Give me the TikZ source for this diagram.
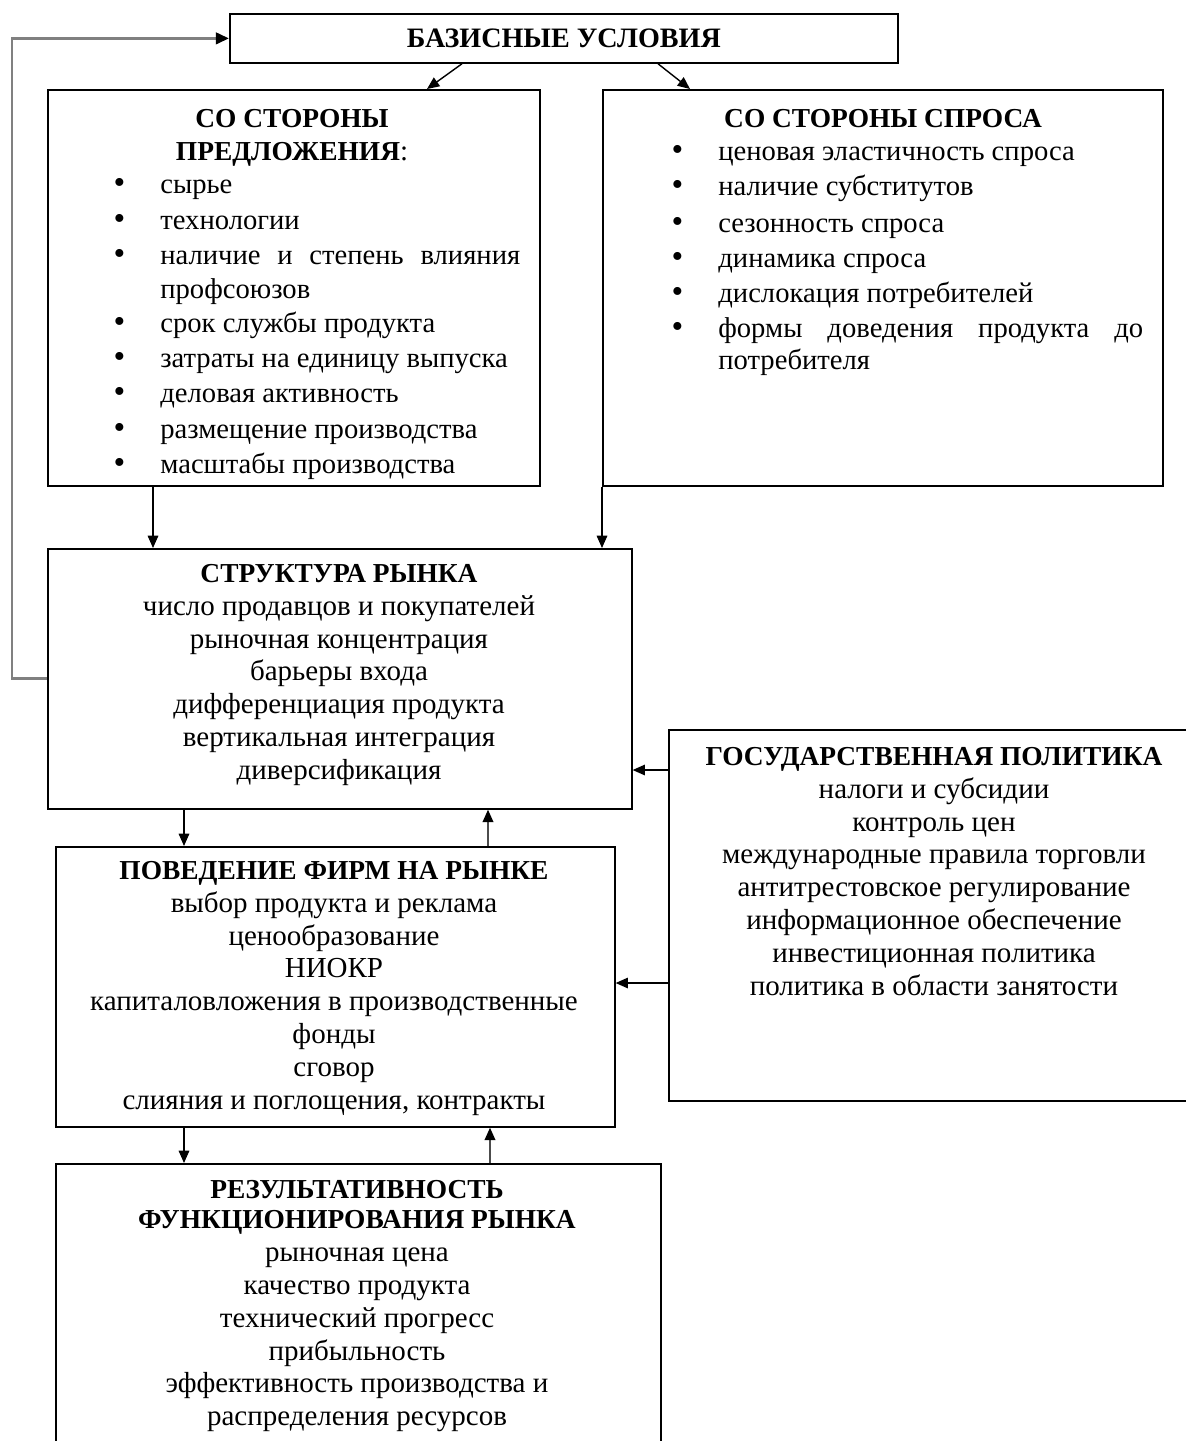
\documentclass[tikz,border=0pt]{standalone}
\usepackage{fontspec}
\setmainfont{Liberation Serif}
\usetikzlibrary{arrows.meta,calc}

\tikzset{
  box/.style={draw, line width=1pt, inner sep=0pt, anchor=north west},
  txt/.style={inner sep=0pt, anchor=north, align=center, font=\fontsize{16.5}{18.7}\selectfont},
  item/.style={inner sep=0pt, anchor=base west, font=\fontsize{16.3}{19}\selectfont},
  arr/.style={line width=0.8pt, -{Triangle[length=7pt, width=6pt]}},
  back/.style={line width=1pt, gray!60!black, -{Triangle[length=7pt, width=6pt, black]}},
  fb/.style={line width=1.7pt, gray, -{Triangle[length=7.5pt, width=6.5pt, black]}}
}

\newcommand{\blt}{\llap{{\fontsize{19}{19}\selectfont\textbullet}\hspace{0.7cm}}}
\newcommand{\hd}[1]{{\fontsize{15.6}{18.7}\selectfont\bfseries #1}}

\begin{document}
\begin{tikzpicture}[x=0.02cm, y=-0.02cm]
  \useasboundingbox (0,0) rectangle (1186,1441);
  \clip (0,0) rectangle (1186,1441);

  % boxes
  \node[box, minimum width=13.36cm, minimum height=0.98cm, font=\fontsize{16}{19}\selectfont\bfseries] (base) at (229,13) {БАЗИСНЫЕ УСЛОВИЯ};
  \node[box, minimum width=9.84cm, minimum height=7.92cm] (sup) at (47,89) {};
  \node[box, minimum width=11.2cm, minimum height=7.92cm] (dem) at (602,89) {};
  \node[box, minimum width=11.68cm, minimum height=5.2cm] (str) at (47,548) {};
  \node[box, minimum width=11.18cm, minimum height=5.6cm] (beh) at (55,846) {};
  \node[box, minimum width=11.44cm, minimum height=7.42cm] (gov) at (668,729) {};
  \node[box, minimum width=12.1cm, minimum height=6.4cm] (res) at (55,1163) {};

  % supply side
  \node[txt] (suphead) at (292,104) {\strut\hd{СО СТОРОНЫ}\\\hd{ПРЕДЛОЖЕНИЯ}:};
  \node[item] (s1) at (160,193) {\blt сырье};
  \node[item] (s2) at (160,229) {\blt технологии};
  \node[item] (s3) at (160,264) {\blt\makebox[7.2cm][s]{наличие и степень влияния}};
  \node[item] (s4) at (160,298) {профсоюзов};
  \node[item] (s5) at (160,332) {\blt срок службы продукта};
  \node[item] (s6) at (160,367) {\blt затраты на единицу выпуска};
  \node[item] (s7) at (160,402) {\blt деловая активность};
  \node[item] (s8) at (160,438) {\blt размещение производства};
  \node[item] (s9) at (160,473) {\blt масштабы производства};

  % demand side
  \node[txt] (demhead) at (883,104) {\strut\hd{СО СТОРОНЫ СПРОСА}};
  \node[item] (d1) at (718,160) {\blt ценовая эластичность спроса};
  \node[item] (d2) at (718,195) {\blt наличие субститутов};
  \node[item] (d3) at (718,232) {\blt сезонность спроса};
  \node[item] (d4) at (718,267) {\blt динамика спроса};
  \node[item] (d5) at (718,302) {\blt дислокация потребителей};
  \node[item] (d6) at (718,337) {\blt\makebox[8.5cm][s]{формы доведения продукта до}};
  \node[item] (d7) at (718,369) {потребителя};

  % centred box texts
  \node[txt] (strtxt) at (339,559) {\strut\hd{СТРУКТУРА РЫНКА}\\число продавцов и покупателей\\рыночная концентрация\\барьеры входа\\дифференциация продукта\\вертикальная интеграция\\диверсификация};
  \node[txt] (behtxt) at (334,856) {\strut\hd{ПОВЕДЕНИЕ ФИРМ НА РЫНКЕ}\\выбор продукта и реклама\\ценообразование\\НИОКР\\капиталовложения в производственные\\фонды\\сговор\\слияния и поглощения, контракты};
  \node[txt] (govtxt) at (934,742) {\strut\hd{ГОСУДАРСТВЕННАЯ ПОЛИТИКА}\\налоги и субсидии\\контроль цен\\международные правила торговли\\антитрестовское регулирование\\информационное обеспечение\\инвестиционная политика\\политика в области занятости};
  \node[txt] (restxt) at (357,1175) {\strut\hd{РЕЗУЛЬТАТИВНОСТЬ}\\[-1.5pt]\hd{ФУНКЦИОНИРОВАНИЯ РЫНКА}\\рыночная цена\\качество продукта\\технический прогресс\\прибыльность\\эффективность производства и\\распределения ресурсов};

  % connectors
  \draw[arr] ($(base.south west)+(233,0)$) -- ($(sup.north west)+(380,0)$);
  \draw[arr] ($(base.south west)+(429,0)$) -- ($(dem.north west)+(88,0)$);
  \draw[arr] ($(sup.south west)+(106,0)$) -- ($(str.north west)+(106,0)$);
  \draw[arr] (dem.south west) -- (dem.south west |- str.north);
  \draw[arr] ($(str.south west)+(137,0)$) -- ($(beh.north west)+(129,0)$);
  \draw[back] ($(beh.north west)+(433,0)$) -- ($(str.south west)+(441,0)$);
  \draw[arr] ($(gov.north west)+(0,41)$) coordinate (g1) -- (g1 -| str.east);
  \draw[arr] ($(gov.north west)+(0,254)$) coordinate (g2) -- (g2 -| beh.east);
  \draw[arr] ($(beh.south west)+(129,0)$) -- ($(res.north west)+(129,0)$);
  \draw[back] ($(res.north west)+(435,0)$) -- ($(beh.south west)+(435,0)$);
  \draw[fb] (str.west) -- ++(-35,0) |- (base.west);
\end{tikzpicture}
\end{document}
